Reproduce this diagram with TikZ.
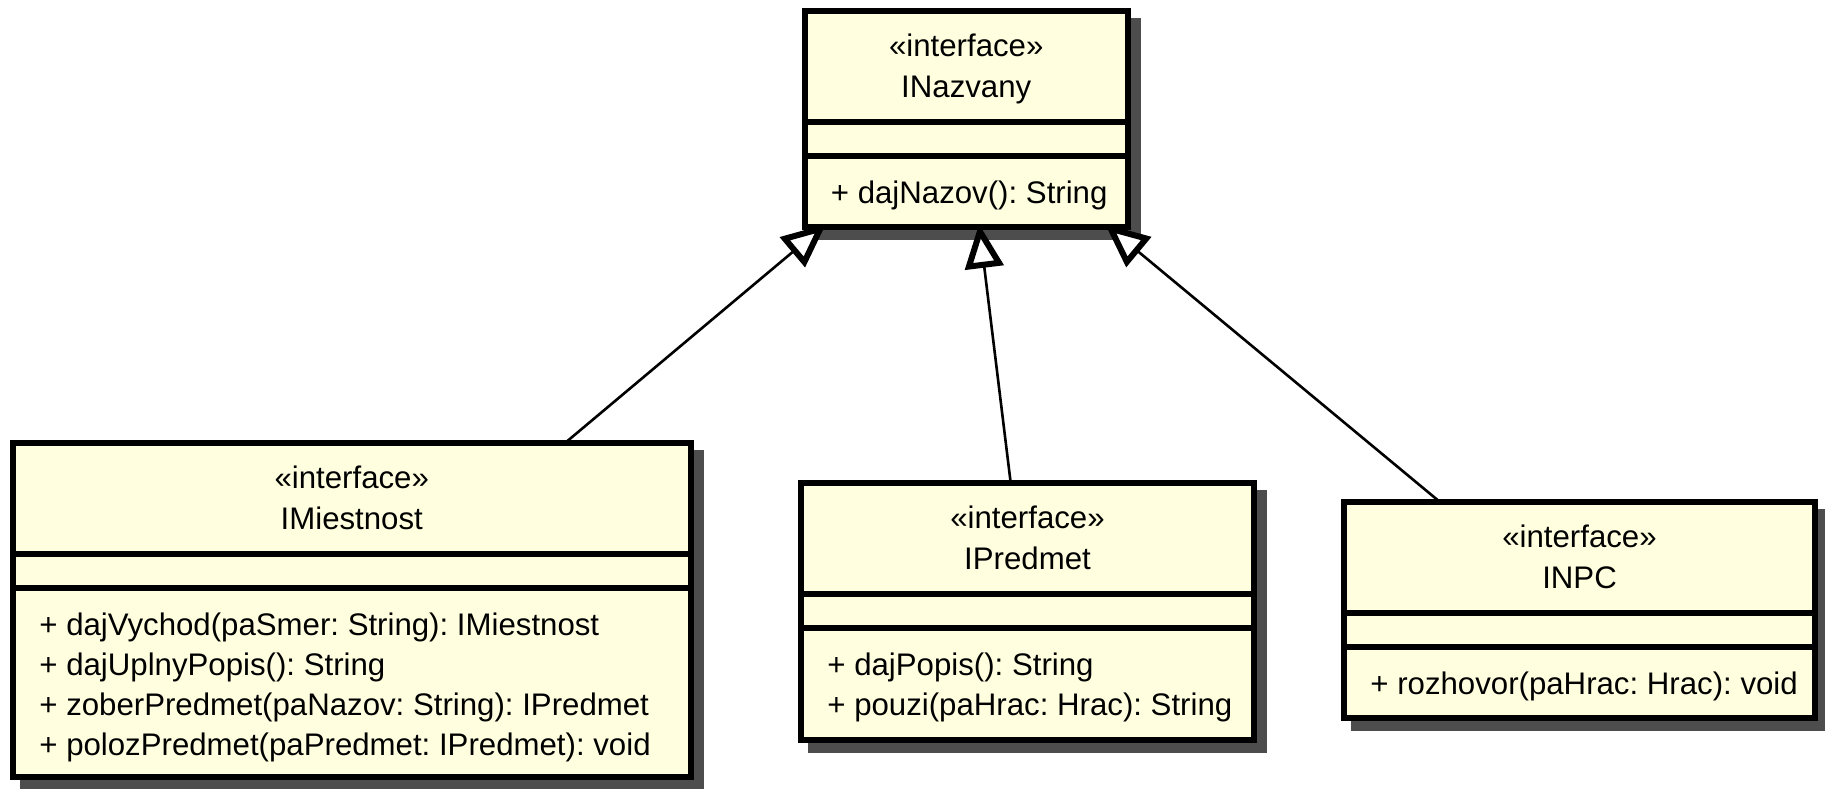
\documentclass[tikz,border=0pt]{standalone}
\usepackage{fontspec}
\setmainfont{Liberation Sans}
\usetikzlibrary{arrows.meta,calc,fit,backgrounds}
\definecolor{classfill}{RGB}{255,255,224}
\definecolor{shadowgray}{RGB}{77,77,77}
\newcommand\umlfont{\fontsize{15.6pt}{19pt}\selectfont\frenchspacing}
\begin{document}
\begin{tikzpicture}[x=0.5pt, y=-0.5pt,
  classbox/.style={rectangle, draw=black, fill=classfill, line width=3pt,
                   inner sep=0pt, outer sep=0pt},
  divider/.style={draw=black, line width=3pt},
  boxshadow/.style={fill=shadowgray},
  headtext/.style={font=\umlfont, anchor=base, inner sep=0pt},
  member/.style={font=\umlfont, anchor=base west, inner sep=0pt},
  generalization/.style={draw=black, line width=1.3pt,
     -{Triangle[fill=white, length=22pt, width=19pt, line width=3pt]}},
]
\useasboundingbox (0,0) rectangle (1825,788);

% ---- class boxes (header 111, attributes 34, operations below) ----
\node[classbox, fit={(804.5,11) (1128,227)}] (nazvany) {};
\node[classbox, fit={(13,443) (690.5,777)}] (miestnost) {};
\node[classbox, fit={(801,483) (1254,740)}] (predmet) {};
\node[classbox, fit={(1344,502) (1815,718)}] (npc) {};

% drop shadows
\begin{scope}[on background layer]
  \foreach \b in {nazvany,miestnost,predmet,npc}
    \fill[boxshadow] ($(\b.north west)+(7,7)$) rectangle ($(\b.south east)+(13,13)$);
\end{scope}

% compartment dividers
\foreach \b in {nazvany,miestnost,predmet,npc} {
  \draw[divider] ($(\b.north west)+(0,111)$) -- ($(\b.north east)+(0,111)$);
  \draw[divider] ($(\b.north west)+(0,145)$) -- ($(\b.north east)+(0,145)$);
}

% ---- INazvany ----
\node[headtext] (nazvany-st) at ($(nazvany.north)+(0,45)$) {«interface»};
\node[headtext] (nazvany-nm) at ($(nazvany.north)+(0,86)$) {INazvany};
\node[member] (nazvany-op1) at ($(nazvany.north west)+(26,192)$) {+ dajNazov(): String};

% ---- IMiestnost ----
\node[headtext] (miestnost-st) at ($(miestnost.north)+(0,45)$) {«interface»};
\node[headtext] (miestnost-nm) at ($(miestnost.north)+(0,86)$) {IMiestnost};
\node[member] (miestnost-op1) at ($(miestnost.north west)+(26,192)$) {+ dajVychod(paSmer: String): IMiestnost};
\node[member] (miestnost-op2) at ($(miestnost.north west)+(26,232)$) {+ dajUplnyPopis(): String};
\node[member] (miestnost-op3) at ($(miestnost.north west)+(26,272)$) {+ zoberPredmet(paNazov: String): IPredmet};
\node[member] (miestnost-op4) at ($(miestnost.north west)+(26,312)$) {+ polozPredmet(paPredmet: IPredmet): void};

% ---- IPredmet ----
\node[headtext] (predmet-st) at ($(predmet.north)+(0,45)$) {«interface»};
\node[headtext] (predmet-nm) at ($(predmet.north)+(0,86)$) {IPredmet};
\node[member] (predmet-op1) at ($(predmet.north west)+(26,192)$) {+ dajPopis(): String};
\node[member] (predmet-op2) at ($(predmet.north west)+(26,232)$) {+ pouzi(paHrac: Hrac): String};

% ---- INPC ----
\node[headtext] (npc-st) at ($(npc.north)+(0,45)$) {«interface»};
\node[headtext] (npc-nm) at ($(npc.north)+(0,86)$) {INPC};
\node[member] (npc-op1) at ($(npc.north west)+(26,192)$) {+ rozhovor(paHrac: Hrac): void};

% ---- generalization connectors ----
\coordinate (miestnost-up) at ($(miestnost.north west)+(552,0)$);
\coordinate (predmet-up)   at ($(predmet.north west)+(209.7,0)$);
\coordinate (npc-up)       at ($(npc.north west)+(96,0)$);
\coordinate (nazvany-inL)  at ($(nazvany.south west)+(21.5,-3)$);
\coordinate (nazvany-inM)  at ($(nazvany.south west)+(174.5,-3)$);
\coordinate (nazvany-inR)  at ($(nazvany.south west)+(300.5,-3)$);

\draw[generalization] (miestnost-up) -- (nazvany-inL);
\draw[generalization] (predmet-up) -- (nazvany-inM);
\draw[generalization] (npc-up) -- (nazvany-inR);
\end{tikzpicture}
\end{document}
